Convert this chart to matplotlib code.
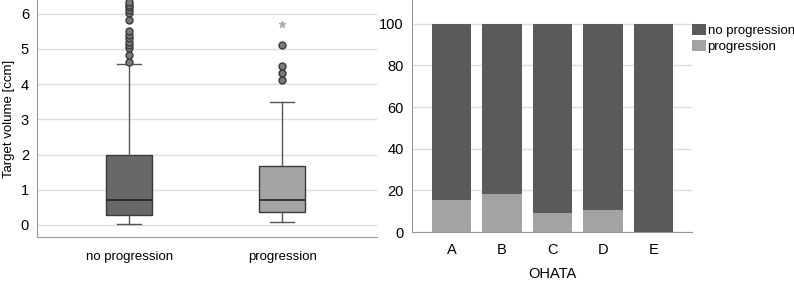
import numpy as np
import matplotlib
matplotlib.use('Agg')
import matplotlib.pyplot as plt

plt.rcParams['font.family'] = ['Liberation Sans', 'DejaVu Sans']

# left panel: target volume boxplots
groups = ['no progression', 'progression']
q1 = [0.28, 0.37]
med = [0.70, 0.70]
q3 = [2.00, 1.67]
whislo = [0.02, 0.08]
whishi = [4.57, 3.50]
outliers = [
    [4.63, 4.83, 5.02, 5.11, 5.21, 5.30, 5.40, 5.52, 5.82, 6.03, 6.11, 6.18, 6.25, 6.32],
    [4.12, 4.33, 4.52, 5.12],
]
extremes = [[], [5.72]]
box_colors = ['#686868', '#a4a4a4']

# right panel: OHATA stacked percentages
ohata = ['A', 'B', 'C', 'D', 'E']
progression = [15.5, 18.5, 9.0, 10.5, 0.0]
no_progression = [100 - p for p in progression]

fig = plt.figure(figsize=(7.94, 2.82), dpi=100)

ax1 = fig.add_axes([0.047, 0.16, 0.428, 0.84])
stats = []
for i in range(len(groups)):
    stats.append(dict(label=groups[i], q1=q1[i], med=med[i], q3=q3[i],
                      whislo=whislo[i], whishi=whishi[i], fliers=outliers[i]))
pos = [1, 2]
bp = ax1.bxp(stats, positions=pos, widths=0.3, capwidths=0.16, patch_artist=True,
             boxprops=dict(edgecolor='#3a3a3a', linewidth=1.0),
             medianprops=dict(color='#222222', linewidth=1.2),
             whiskerprops=dict(color='#555555', linewidth=1.0),
             capprops=dict(color='#555555', linewidth=1.0),
             flierprops=dict(marker='o', markersize=5, markerfacecolor='#7a7a7a',
                             markeredgecolor='#3a3a3a', markeredgewidth=1.0))
for patch, c in zip(bp['boxes'], box_colors):
    patch.set_facecolor(c)
for p, ex in zip(pos, extremes):
    if ex:
        ax1.plot([p] * len(ex), ex, linestyle='none', marker='*', markersize=5,
                 color='#b0b0b0')
ax1.set_xlim(0.40, 2.62)
ax1.set_ylim(-0.34, 6.39)
ax1.set_yticks(range(0, 7))
ax1.set_ylabel('Target volume [ccm]', fontsize=9.5, labelpad=4)
ax1.yaxis.grid(True, color='#dddddd', linewidth=1.0)
ax1.set_axisbelow(True)
for s in ['top', 'right']:
    ax1.spines[s].set_visible(False)
for s in ['left', 'bottom']:
    ax1.spines[s].set_color('#999999')
ax1.tick_params(axis='y', length=0, labelsize=10.5, pad=6)
ax1.tick_params(axis='x', length=0, labelsize=9.5, pad=10)

ax2 = fig.add_axes([0.519, 0.177, 0.353, 0.823])
x = np.arange(len(ohata))
ax2.bar(x, progression, width=0.78, color='#a3a3a3', label='progression')
ax2.bar(x, no_progression, width=0.78, bottom=progression, color='#5a5a5a',
        label='no progression')
ax2.set_xlim(-0.78, 4.77)
ax2.set_ylim(0, 111.4)
ax2.set_yticks(range(0, 101, 20))
ax2.set_xticks(x)
ax2.set_xticklabels(ohata)
ax2.set_xlabel('OHATA', fontsize=10.5, labelpad=7)
ax2.yaxis.grid(True, color='#dddddd', linewidth=1.0)
ax2.set_axisbelow(True)
for s in ['top', 'right']:
    ax2.spines[s].set_visible(False)
for s in ['left', 'bottom']:
    ax2.spines[s].set_color('#999999')
ax2.tick_params(axis='y', length=0, labelsize=10.5, pad=6)
ax2.tick_params(axis='x', length=0, labelsize=10.5, pad=8)
h, l = ax2.get_legend_handles_labels()
ax2.legend(h[::-1], l[::-1], loc='upper left', bbox_to_anchor=(1.0, 0.895),
           frameon=False, fontsize=9.5, handlelength=1.0, handleheight=0.9,
           handletextpad=0.15, labelspacing=0.2, borderaxespad=0, borderpad=0)

fig.savefig('out.png', dpi=100)
